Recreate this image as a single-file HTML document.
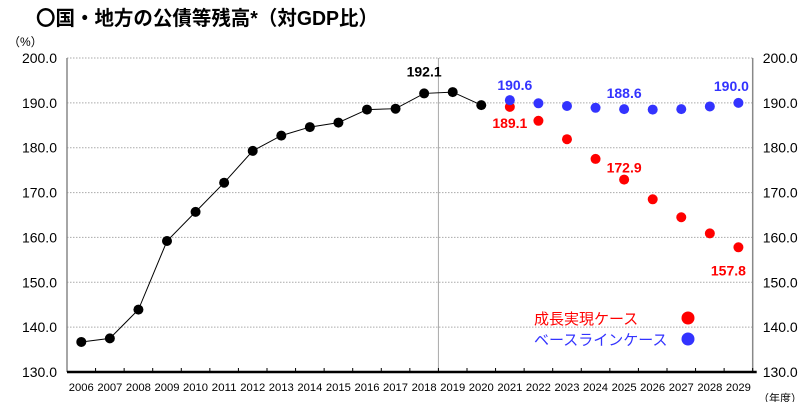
<!DOCTYPE html>
<html><head><meta charset="utf-8"><style>
body{margin:0;background:#fff;width:811px;height:402px;overflow:hidden;font-family:"Liberation Sans","Noto Sans CJK JP",sans-serif}
</style></head><body>
<svg id="c" width="811" height="402" xmlns="http://www.w3.org/2000/svg" font-family="Liberation Sans, Noto Sans CJK JP, sans-serif"></svg>
<script>
const years=["2006","2007","2008","2009","2010","2011","2012","2013","2014","2015","2016","2017","2018","2019","2020","2021","2022","2023","2024","2025","2026","2027","2028","2029"];
const actual=[136.7,137.5,143.9,159.2,165.7,172.2,179.3,182.7,184.6,185.6,188.5,188.7,192.1,192.4,189.5];
const baseline=[190.6,189.9,189.3,188.9,188.6,188.5,188.6,189.2,190.0];
const growth=[189.1,186.0,181.9,177.5,172.9,168.5,164.5,160.9,157.8];
const yTicks=[130,140,150,160,170,180,190,200];
const tickLabels=["130.0","140.0","150.0","160.0","170.0","180.0","190.0","200.0"];
const NS="http://www.w3.org/2000/svg",svg=document.getElementById('c');
const L=67,R=752.7,T=58,B=372,cw=(R-L)/years.length;
function x(i){return L+cw*(i+0.5);}
function y(v){return B-(v-130)/70*(B-T);}
function mk(t,a,p){const e=document.createElementNS(NS,t);for(const k in a)e.setAttribute(k,a[k]);(p||svg).appendChild(e);return e;}
function tx(s,a){const e=mk('text',a);e.textContent=s;return e;}
let e;
e=tx('〇国・地方の公債等残高*（対GDP比）',{x:36,y:25,'font-size':20,'font-weight':'bold',fill:'#000',textLength:342,lengthAdjust:'spacingAndGlyphs'});

e=tx('（%）',{x:8,y:46,'font-size':12,fill:'#000'});

yTicks.forEach((v,i)=>{
 if(v>130){e=mk('line',{x1:L,x2:R,y1:y(v),y2:y(v),stroke:'#aaa','stroke-dasharray':'1.5 1.5','stroke-width':1});
 }
 e=tx(tickLabels[i],{x:L-10,y:y(v)+5,'font-size':14,'text-anchor':'end',fill:'#000'});
 
 e=tx(tickLabels[i],{x:R+10,y:y(v)+5,'font-size':14,fill:'#000'});
 
});
e=mk('line',{x1:L,x2:L,y1:T,y2:B,stroke:'#888','stroke-width':1.5});
e=mk('line',{x1:R,x2:R,y1:T,y2:B,stroke:'#888','stroke-width':1.5});
e=mk('line',{x1:L+cw*13,x2:L+cw*13,y1:T,y2:B,stroke:'#aaa','stroke-width':1});
e=mk('line',{x1:L,x2:R+4,y1:B,y2:B,stroke:'#000','stroke-width':2.5});
years.forEach((yr,i)=>{
 e=mk('line',{x1:L+cw*(i+1),x2:L+cw*(i+1),y1:B,y2:B-4,stroke:'#000'});
 e=tx(yr,{x:x(i),y:391,'font-size':11,'text-anchor':'middle',fill:'#000',textLength:25,lengthAdjust:'spacingAndGlyphs'});
 
});
e=tx('（年度）',{x:758,y:402,'font-size':11,fill:'#000'});
e=mk('polyline',{points:actual.map((v,i)=>x(i)+','+y(v)).join(' '),fill:'none',stroke:'#000','stroke-width':1});

actual.forEach((v,i)=>{e=mk('circle',{cx:x(i),cy:y(v),r:5,fill:'#000'});});
growth.forEach((v,i)=>{e=mk('circle',{cx:x(i+15),cy:y(v),r:5,fill:'#f00'});});
baseline.forEach((v,i)=>{e=mk('circle',{cx:x(i+15),cy:y(v),r:5,fill:'#33f'});});
function lab(s,i,v,dy,c,dx){e=tx(s,{x:x(i)+(dx||0),y:y(v)+dy,'font-size':14,'font-weight':'bold','text-anchor':'middle',fill:c});}
lab(actual[12].toFixed(1),12,actual[12],-17,'#000');
lab(baseline[0].toFixed(1),15,baseline[0],-10,'#33f',5);
lab(baseline[4].toFixed(1),19,baseline[4],-11,'#33f');
lab(baseline[8].toFixed(1),23,baseline[8],-12,'#33f',-7);
lab(growth[0].toFixed(1),15,growth[0],21,'#f00');
lab(growth[4].toFixed(1),19,growth[4],-7,'#f00');
lab(growth[8].toFixed(1),23,growth[8],28,'#f00',-10);
e=tx('成長実現ケース',{x:534,y:324,'font-size':15,fill:'#f00'});
e=mk('circle',{cx:688,cy:318,r:6.5,fill:'#f00'});
e=tx('ベースラインケース',{x:534,y:345,'font-size':15,fill:'#33f'});
e=mk('circle',{cx:688,cy:339,r:6.5,fill:'#33f'});
</script>
</body></html>
